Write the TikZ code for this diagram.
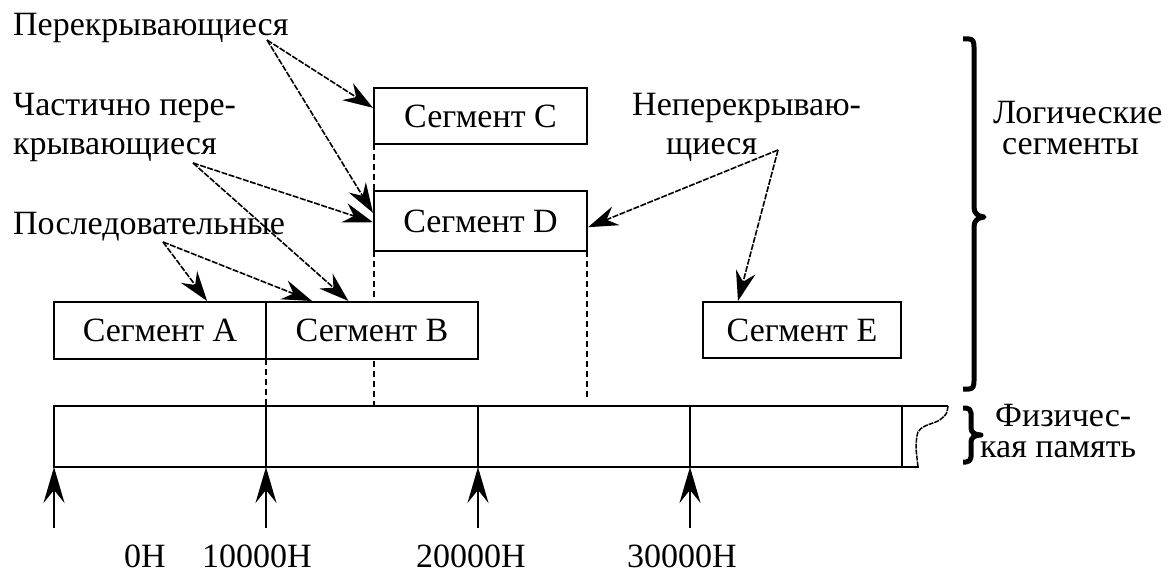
\documentclass[tikz,border=0pt]{standalone}
\usepackage{fontspec}
\setmainfont{Liberation Serif}
\usetikzlibrary{arrows.meta,calc}
\begin{document}
\begin{tikzpicture}[x=1pt,y=-1pt,
  every node/.style={font=\fontsize{34}{40}\selectfont, inner sep=0pt},
  twoline/.style={align=left, font=\fontsize{34}{31}\selectfont},
  segbox/.style={draw, line width=2pt, fill=white},
  pointer/.style={line width=1.6pt, dash pattern=on 6pt off 1.5pt,
    -{Stealth[length=30pt,width=20pt,inset=10pt]}},
  addr/.style={line width=2pt, -{Stealth[length=36pt,width=21pt,inset=13pt]}},
  guide/.style={line width=2pt, dash pattern=on 6pt off 4pt},
  wall/.style={line width=2pt},
  brace/.style={line width=5pt, line join=round}
]
\useasboundingbox (0,0) rectangle (1168,575);

% points on the physical memory strip
\coordinate (m0b) at (54,467);
\coordinate (m1t) at (266,406);
\coordinate (m1b) at (266,467);
\coordinate (mCt) at (374,406);
\coordinate (m2b) at (478,467);
\coordinate (mDt) at (587,400);
\coordinate (m3b) at (690,467);

% dashed projections (drawn first, boxes cover them)
\coordinate (aSE) at (266,359);
\draw[guide] (aSE) -- (m1t);
\draw[guide] (374,144) coordinate (cSW) -- (374,191) coordinate (dNW);
\draw[guide] (374,251) coordinate (dSW) -- (mCt);
\draw[guide] (587,251) coordinate (dSE) -- (mDt);

% logical segments
\node[segbox, minimum width=212pt, minimum height=57pt] (A) at (160,330.5) {Сегмент A};
\node[segbox, minimum width=212pt, minimum height=57pt] (B) at (372,330.5) {Сегмент B};
\node[segbox, minimum width=213pt, minimum height=56pt] (C) at (480.5,116) {Сегмент C};
\node[segbox, minimum width=213pt, minimum height=60pt] (D) at (480.5,221) {Сегмент D};
\node[segbox, minimum width=198pt, minimum height=56pt] (E) at (802,330) {Сегмент E};

% physical memory strip
\draw[wall] (919,467) -- (54,467) -- (54,406) -- (948,406);
\draw[wall] (m1t) -- (m1b);
\draw[wall] (478,406) -- (m2b);
\draw[wall] (690,406) -- (m3b);
\draw[wall] (902,406) -- (902,467);
\draw[line width=1.5pt, dash pattern=on 5pt off 1pt]
  plot[smooth] coordinates {(948,406) (946,414) (938,421) (925,426) (918,432) (916,446) (917,458) (918,467)};

% captions
\node[anchor=base west] (lOver)  at (13,36)  {Перекрывающиеся};
\node[anchor=base west] (lPart1) at (13,116) {Частично пере-};
\node[anchor=base west] (lPart2) at (13,155) {крывающиеся};
\node[anchor=base west] (lSeq)   at (13,234) {Последовательные};
\node[anchor=base west] (lNon1)  at (632,116) {Неперекрываю-};
\node[anchor=base west] (lNon2)  at (666,155) {щиеся};
% for multi-line nodes the base anchor sits on the last line
\node[twoline, anchor=base west] (lLog)  at (993,155) {Логические\\\hspace*{9pt}сегменты};
\node[twoline, anchor=base west] (lPhys) at (980,457) {\hspace*{15pt}Физичес-\\кая память};

% arrow origins under the captions
\coordinate (pOver) at (267,40);
\coordinate (pPart) at (193,163);
\coordinate (pSeq)  at (163,242);
\coordinate (pNon)  at (778,150);

\draw[pointer] (pOver) -- ($(C.north west)!0.36!(C.south west)$);
\draw[pointer] (pOver) -- ($(D.north west)!0.37!(D.south west)$);
\draw[pointer] (pPart) -- ($(D.north west)!0.52!(D.south west)$);
\draw[pointer] (pPart) -- ($(B.north west)!0.39!(B.north east)$);
\draw[pointer] (pSeq)  -- ($(A.north west)!0.72!(A.north east)$);
\draw[pointer] (pSeq)  -- ($(B.north west)!0.22!(B.north east)$);
\draw[pointer] (pNon)  -- ($(D.north east)!0.6!(D.south east)$);
\draw[pointer] (pNon)  -- ($(E.north west)!0.18!(E.north east)$);

% braces
\draw[brace] (963,39) -- (969,39) .. controls (973,39) and (974,42) .. (974,47)
  -- (974,207) .. controls (974,213) and (977,216) .. (984,217)
  .. controls (977,218) and (974,221) .. (974,227) -- (974,381)
  .. controls (974,386) and (973,389) .. (969,389) -- (963,389);
\draw[brace] (963,408) -- (966,408) .. controls (969,408) and (971,410) .. (971,413)
  -- (971,428) .. controls (971,432) and (974,435) .. (981,435)
  .. controls (974,435) and (971,438) .. (971,442) -- (971,457)
  .. controls (971,460) and (969,462) .. (966,462) -- (963,462);

% address pointers
\coordinate (t0) at (54,528);
\coordinate (t1) at (266,528);
\coordinate (t2) at (478,528);
\coordinate (t3) at (690,528);
\draw[addr] (t0) -- (m0b);
\draw[addr] (t1) -- (m1b);
\draw[addr] (t2) -- (m2b);
\draw[addr] (t3) -- (m3b);

\node[anchor=base] (h0) at (145,567) {0H};
\node[anchor=base] (h1) at (257,567) {10000H};
\node[anchor=base] (h2) at (471,567) {20000H};
\node[anchor=base] (h3) at (682,567) {30000H};
\end{tikzpicture}
\end{document}
